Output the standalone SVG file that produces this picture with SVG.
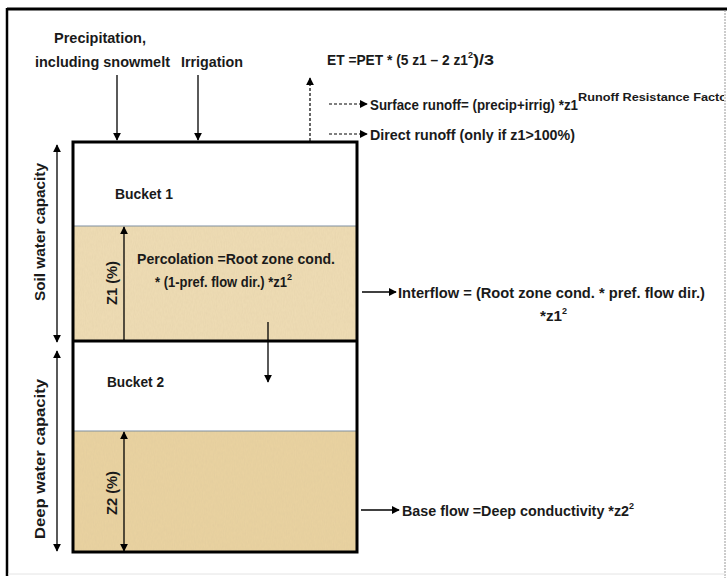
<svg xmlns="http://www.w3.org/2000/svg" width="727" height="578" viewBox="0 0 727 578">
<defs>
<style>
text{font-family:"Liberation Sans",Arial,sans-serif;font-weight:bold;fill:#1a1a1a;font-size:15px}
.sm{font-size:9px}
.sup{font-size:11px}
.ln{stroke:#000;stroke-width:1.3;fill:none}
.dash{stroke:#000;stroke-width:1.2;fill:none;stroke-dasharray:3,2}
</style>
<marker id="ah" viewBox="0 0 10 10" refX="9" refY="5" markerWidth="8" markerHeight="8" markerUnits="userSpaceOnUse" orient="auto-start-reverse"><path d="M0,0 L10,5 L0,10 z" fill="#000"/></marker>
<filter id="tex" x="0" y="0" width="100%" height="100%"><feTurbulence type="fractalNoise" baseFrequency="0.9 0.25" numOctaves="2" seed="3" result="n"/><feColorMatrix in="n" type="matrix" values="0 0 0 0 0.55  0 0 0 0 0.45  0 0 0 0 0.25  0 0 0 0.18 0" result="c"/><feComposite in="c" in2="SourceGraphic" operator="in" result="m"/><feMerge><feMergeNode in="SourceGraphic"/><feMergeNode in="m"/></feMerge></filter>
<clipPath id="clipR"><rect x="0" y="0" width="724" height="578"/></clipPath>
</defs>
<rect width="727" height="578" fill="#fff"/>
<g id="frame">
<line x1="7" y1="9" x2="727" y2="9" stroke="#000" stroke-width="3"/>
<line x1="7" y1="8" x2="7" y2="576" stroke="#000" stroke-width="2.5"/>
<line x1="725" y1="10" x2="725" y2="578" stroke="#999" stroke-width="1" stroke-dasharray="2,1"/>
<line x1="8" y1="574" x2="725" y2="574" stroke="#e4e4e4" stroke-width="1"/>
</g>
<g id="bucket1">
<rect x="73" y="142" width="284" height="84" fill="#fff"/>
<rect x="73" y="226" width="284" height="115" fill="#EFDDB5" filter="url(#tex)"/>
<line x1="73" y1="226" x2="357" y2="226" stroke="#7f8fa0" stroke-width="1"/>
<text x="115" y="199" textLength="58" lengthAdjust="spacingAndGlyphs">Bucket 1</text>
<text x="137" y="264" textLength="198" lengthAdjust="spacingAndGlyphs">Percolation =Root zone cond.</text>
<text x="155" y="287"><tspan textLength="132" lengthAdjust="spacingAndGlyphs">* (1-pref. flow dir.) *z1</tspan><tspan class="sm" dy="-7">2</tspan></text>
<text transform="translate(117,283) rotate(-90)" text-anchor="middle" textLength="44" lengthAdjust="spacingAndGlyphs">Z1 (%)</text>
</g>
<g id="bucket2">
<rect x="73" y="341" width="284" height="90" fill="#fff"/>
<rect x="73" y="431" width="284" height="121" fill="#EAD3A2" filter="url(#tex)"/>
<line x1="73" y1="431" x2="357" y2="431" stroke="#7f8fa0" stroke-width="1"/>
<text x="107" y="387" textLength="57" lengthAdjust="spacingAndGlyphs">Bucket 2</text>
<text transform="translate(117,493) rotate(-90)" text-anchor="middle" textLength="44" lengthAdjust="spacingAndGlyphs">Z2 (%)</text>
</g>
<g id="box">
<rect x="73" y="142" width="284" height="410" fill="none" stroke="#000" stroke-width="3"/>
<line x1="73" y1="341" x2="357" y2="341" stroke="#000" stroke-width="3"/>
</g>
<g id="capacity">
<text transform="translate(45,232) rotate(-90)" text-anchor="middle" textLength="138" lengthAdjust="spacingAndGlyphs">Soil water capacity</text>
<text transform="translate(45,459) rotate(-90)" text-anchor="middle" textLength="160" lengthAdjust="spacingAndGlyphs">Deep water capacity</text>
</g>
<g id="inputs">
<text x="100" y="43" text-anchor="middle" textLength="92" lengthAdjust="spacingAndGlyphs">Precipitation,</text>
<text x="35" y="67" textLength="135" lengthAdjust="spacingAndGlyphs">including snowmelt</text>
<text x="181" y="67" textLength="62" lengthAdjust="spacingAndGlyphs">Irrigation</text>
</g>
<g id="outputs">
<text x="327" y="65"><tspan textLength="141" lengthAdjust="spacingAndGlyphs">ET =PET * (5 z1 – 2 z1</tspan><tspan class="sm" dy="-7">2</tspan><tspan dy="7" textLength="21" lengthAdjust="spacingAndGlyphs">)/3</tspan></text>
<g clip-path="url(#clipR)">
<text x="370" y="110"><tspan textLength="208" lengthAdjust="spacingAndGlyphs">Surface runoff= (precip+irrig) *z1</tspan><tspan class="sup" dy="-9" textLength="154" lengthAdjust="spacingAndGlyphs">Runoff Resistance Factor</tspan></text>
</g>
<text x="370" y="140" textLength="205" lengthAdjust="spacingAndGlyphs">Direct runoff (only if z1&gt;100%)</text>
<text x="398" y="298" textLength="307" lengthAdjust="spacingAndGlyphs">Interflow = (Root zone cond. * pref. flow dir.)</text>
<text x="540" y="321"><tspan textLength="22" lengthAdjust="spacingAndGlyphs">*z1</tspan><tspan class="sm" dy="-7">2</tspan></text>
<text x="402" y="516"><tspan textLength="227" lengthAdjust="spacingAndGlyphs">Base flow =Deep conductivity *z2</tspan><tspan class="sm" dy="-7">2</tspan></text>
</g>
<g id="connectors">
<line class="ln" x1="117" y1="75" x2="117" y2="140" marker-end="url(#ah)"/>
<line class="ln" x1="198" y1="75" x2="198" y2="140" marker-end="url(#ah)"/>
<line class="dash" x1="310" y1="141" x2="310" y2="78" marker-end="url(#ah)"/>
<line class="dash" x1="329" y1="104" x2="367" y2="104" marker-end="url(#ah)"/>
<line class="dash" x1="329" y1="134" x2="367" y2="134" marker-end="url(#ah)"/>
<line class="ln" x1="362" y1="292" x2="396" y2="292" marker-end="url(#ah)"/>
<line class="ln" x1="361" y1="510" x2="399" y2="510" marker-end="url(#ah)"/>
<line class="ln" x1="268" y1="322" x2="268" y2="382" marker-end="url(#ah)"/>
<line class="ln" x1="124" y1="340" x2="124" y2="227" marker-end="url(#ah)"/>
<line class="ln" x1="124" y1="432" x2="124" y2="551" marker-start="url(#ah)" marker-end="url(#ah)"/>
<line class="ln" x1="57" y1="145" x2="57" y2="342" marker-start="url(#ah)" marker-end="url(#ah)"/>
<line class="ln" x1="57" y1="351" x2="57" y2="551" marker-start="url(#ah)" marker-end="url(#ah)"/>
</g>
</svg>
